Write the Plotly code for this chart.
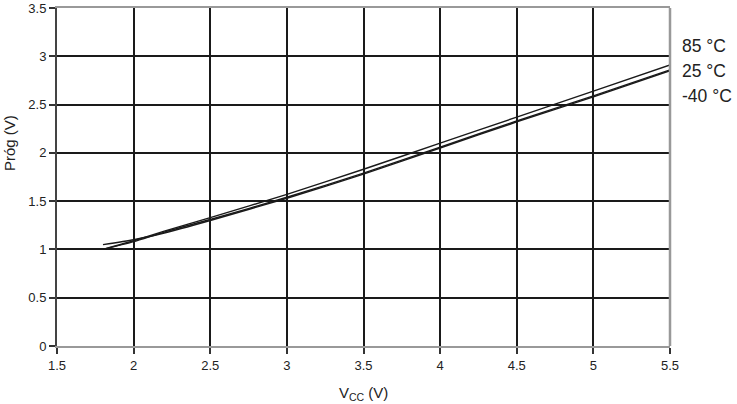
import plotly.graph_objects as go

vcc = [1.8, 2.0, 2.2, 2.5, 3.0, 3.5, 4.0, 4.5, 5.0, 5.5]
t85 = [1.00, 1.09, 1.19, 1.33, 1.57, 1.83, 2.10, 2.37, 2.64, 2.91]
t25 = [1.00, 1.08, 1.18, 1.31, 1.54, 1.79, 2.06, 2.33, 2.59, 2.86]
tm40 = [1.05, 1.10, 1.17, 1.30, 1.53, 1.78, 2.05, 2.32, 2.58, 2.85]
series_names = ["85 °C", "25 °C", "-40 °C"]
x_ticks = [1.5, 2, 2.5, 3, 3.5, 4, 4.5, 5, 5.5]
y_ticks = [0, 0.5, 1, 1.5, 2, 2.5, 3, 3.5]

FONT = "Liberation Sans, Arial, Helvetica, sans-serif"

fig = go.Figure()
for name, ys in zip(series_names, [t85, t25, tm40]):
    fig.add_trace(go.Scatter(x=vcc, y=ys, mode="lines", name=name,
                             line=dict(color="#1a1a1a", width=1.4, shape="spline", smoothing=0.6),
                             showlegend=False))

fig.update_layout(
    width=737, height=404,
    margin=dict(l=57, r=67, t=8, b=58, autoexpand=False),
    paper_bgcolor="white", plot_bgcolor="white",
    font=dict(family=FONT, size=13, color="#222"),
    xaxis=dict(range=[1.5, 5.5], tickvals=x_ticks, ticktext=[str(v) for v in x_ticks],
               showgrid=True, gridcolor="#1a1a1a", gridwidth=2, automargin=False,
               showline=True, linecolor="#999", linewidth=2, mirror=True,
               ticks="outside", ticklen=6, tickcolor="#333", tickwidth=1.5,
               zeroline=False, tickfont=dict(size=13, color="#222")),
    yaxis=dict(range=[0, 3.5], tickvals=y_ticks, ticktext=[str(v) for v in y_ticks],
               showgrid=True, gridcolor="#1a1a1a", gridwidth=2, automargin=False,
               showline=True, linecolor="#444", linewidth=2,
               ticks="outside", ticklen=6, tickcolor="#333", tickwidth=1.5,
               zeroline=False, tickfont=dict(size=13, color="#222")),
)

# right border
fig.add_shape(type="line", xref="paper", yref="paper", x0=1, x1=1, y0=0, y1=1,
              line=dict(color="#999", width=2.5))

# right-side labels
for i, name in enumerate(series_names):
    fig.add_annotation(xref="paper", yref="paper", x=1.0, y=1 - (46 - 8 + 25 * i) / 338,
                       text=name, showarrow=False, xanchor="left", yanchor="middle", xshift=10,
                       font=dict(size=17.5, color="#222", family=FONT))

# axis titles
fig.add_annotation(xref="paper", yref="paper", x=0.5, y=0, yshift=-47,
                   text="V<sub>CC</sub> (V)", showarrow=False, xanchor="center", yanchor="middle",
                   font=dict(size=15, color="#222", family=FONT))
fig.add_annotation(xref="paper", yref="paper", x=0, xshift=-47, y=1 - (143 - 8) / 338,
                   text="Próg (V)", showarrow=False, textangle=-90, xanchor="center", yanchor="middle",
                   font=dict(size=15, color="#222", family=FONT))

fig.write_html("out.html", config={"displayModeBar": False},
               post_script="document.body.style.margin='0';document.body.style.overflow='hidden';")
